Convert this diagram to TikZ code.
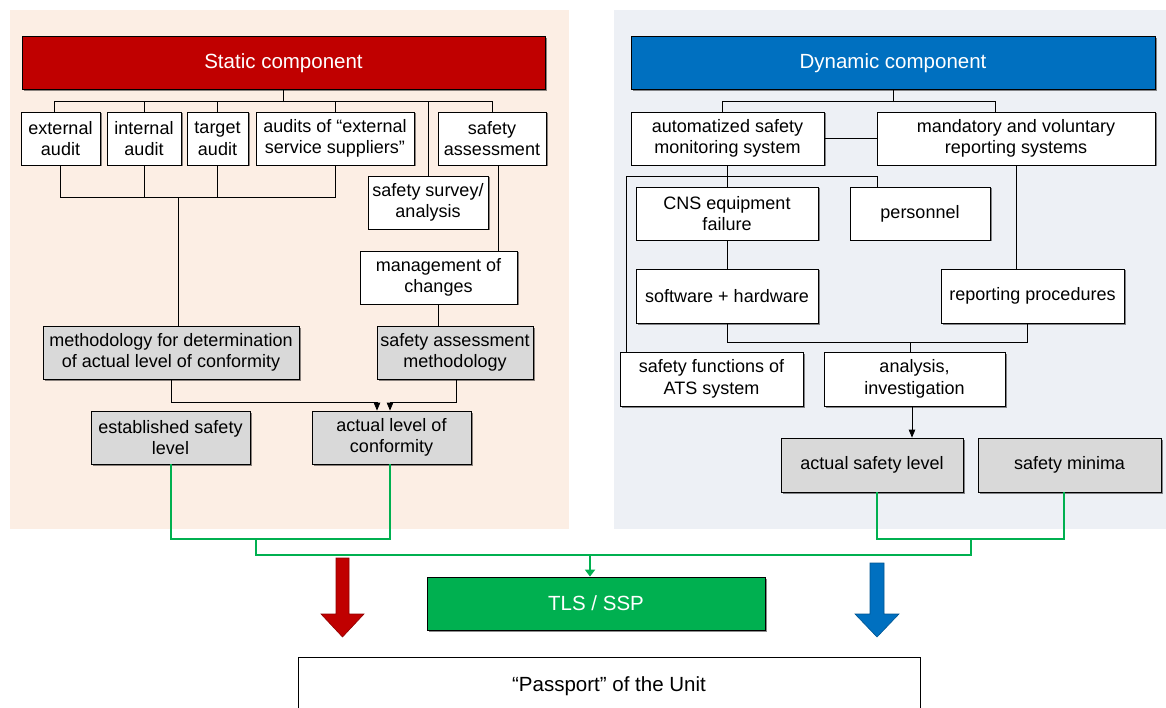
\documentclass[tikz,border=0pt]{standalone}
\usepackage{fontspec}
\setmainfont{Liberation Sans}
\usetikzlibrary{arrows.meta,shadows,calc}
\definecolor{sred}{HTML}{C00000}
\definecolor{sblue}{HTML}{0070C0}
\definecolor{sgreen}{HTML}{00B050}
\definecolor{sgray}{HTML}{D9D9D9}
\definecolor{peach}{HTML}{FCEEE4}
\definecolor{bluep}{HTML}{EDF0F5}
\begin{document}
\begin{tikzpicture}[x=1pt,y=-1pt,
  shad/.style={drop shadow={shadow xshift=1.5pt,shadow yshift=-1.5pt,fill=black,opacity=0.45}},
  plainbox/.style={draw=black,line width=0.8pt,fill=white,align=center,inner sep=0pt,
    font=\fontsize{18}{21.6}\selectfont},
  box/.style={plainbox,shad},
  gbox/.style={box,fill=sgray},
  hdr/.style={draw=black,line width=1pt,align=center,inner sep=0pt,text=white,
    font=\fontsize{20.5}{24}\selectfont,shad,minimum height=53pt},
  ln/.style={draw=black,line width=0.8pt},
  gln/.style={draw=sgreen,line width=2pt},
  arr/.style={-{Triangle[length=8pt,width=6.5pt]}},
  garr/.style={-{Triangle[length=7pt,width=10pt]}}]
\useasboundingbox (0,0) rectangle (1166,708);
\clip (0,0) rectangle (1166,708);
% panels
\fill[peach] (10,10) rectangle (569,529);
\fill[bluep] (614,10) rectangle (1166,529);

% ---------- static component ----------
\node[hdr,fill=sred,minimum width=523pt] (static) at (283.5,63.5) {Static component};
\node[box,minimum width=79pt,minimum height=53pt] (ext) at (60.5,138.5) {external\\audit};
\node[box,minimum width=74pt,minimum height=53pt] (int) at (144,138.5) {internal\\audit};
\node[box,minimum width=61pt,minimum height=53pt] (tgt) at (217.5,138.5) {target\\audit};
\node[box,minimum width=158pt,minimum height=53pt] (aud) at (335,138.5) {audits of “external\\service suppliers”};
\node[box,minimum width=108pt,minimum height=53pt] (sass) at (492,138.5) {safety\\assessment};
\node[box,minimum width=120pt,minimum height=53pt] (survey) at (428,202.5) {safety survey/\\analysis};
\node[box,minimum width=157pt,minimum height=53pt] (mgmt) at (438.5,277.5) {management of\\changes};
\node[gbox,minimum width=256pt,minimum height=53pt] (meth) at (171,352.5) {methodology for determination\\of actual level of conformity};
\node[gbox,minimum width=156pt,minimum height=53pt] (sam) at (455,352.5) {safety assessment\\methodology};
\node[gbox,minimum width=159pt,minimum height=53pt] (est) at (170.5,437.5) {established safety\\level};
\node[gbox,minimum width=159pt,minimum height=53pt] (alc) at (391.5,437.5) {actual level of\\conformity};

\draw[ln] (static.south) -- ++(0,11) coordinate (t1);
\coordinate (extn) at ($(ext.north)+(-6.5,0)$);
\draw[ln] (extn) |- (t1) -| (sass.north);
\draw[ln] (int.north) -- (int.north |- t1);
\draw[ln] (tgt.north) -- (tgt.north |- t1);
\draw[ln] (aud.north) -- (aud.north |- t1);
\draw[ln] (survey.north) -- (survey.north |- t1);
\draw[ln] (ext.south) -- ++(0,32) coordinate (b1) -| (aud.south);
\draw[ln] (int.south) -- (int.south |- b1);
\draw[ln] (tgt.south) -- (tgt.south |- b1);
\coordinate (m1) at ($(meth.north)+(7,0)$);
\draw[ln] (m1) -- (m1 |- b1);
\coordinate (s1) at ($(sass.south)+(6,0)$);
\draw[ln] (s1) -- (s1 |- mgmt.north);
\draw[ln] (mgmt.south) -- (mgmt.south |- sam.north);
\coordinate (alc1) at ($(alc.north)+(-14.5,0)$);
\coordinate (alc2) at ($(alc.north)+(-1.5,0)$);
\coordinate (sams) at ($(sam.south)+(1,0)$);
\draw[ln,arr] (meth.south) -- ++(0,23) -| (alc1);
\draw[ln,arr] (sams) -- ++(0,23) -| (alc2);

% ---------- dynamic component ----------
\node[hdr,fill=sblue,minimum width=524pt] (dyn) at (893,63.5) {Dynamic component};
\node[box,minimum width=193pt,minimum height=53pt] (auto) at (727.5,138.5) {automatized safety\\monitoring system};
\node[box,minimum width=278pt,minimum height=53pt] (mand) at (1016,138.5) {mandatory and voluntary\\reporting systems};
\node[box,minimum width=182pt,minimum height=53pt] (cns) at (727,213.5) {CNS equipment\\failure};
\node[box,minimum width=140pt,minimum height=53pt] (pers) at (920,213.5) {personnel};
\node[box,minimum width=182pt,minimum height=54pt] (sw) at (727,296) {software + hardware};
\node[box,minimum width=183pt,minimum height=54pt] (rp) at (1032.5,296) {reporting procedures};
\node[box,minimum width=183pt,minimum height=54pt] (sf) at (711.5,379) {safety functions of\\ATS system};
\node[box,minimum width=181pt,minimum height=54pt] (an) at (914.5,379) {analysis,\\investigation};
\node[gbox,minimum width=182pt,minimum height=54pt] (asl) at (872,465) {actual safety level};
\node[gbox,minimum width=183pt,minimum height=54pt] (smin) at (1069.5,465) {safety minima};

\draw[ln] (dyn.south) -- ++(0,11) coordinate (t2);
\coordinate (auton) at ($(auto.north)+(-5.5,0)$);
\coordinate (mandn) at ($(mand.north)+(-21,0)$);
\draw[ln] (auton) |- (t2) -| (mandn);
\draw[ln] (auto.east) -- (mand.west);
\draw[ln] (auto.south) -- (auto.south |- cns.north);
\coordinate (j1) at ($(auto.south)+(0,11)$);
\coordinate (sfl) at ($(sf.north west)+(7,0)$);
\coordinate (pl) at ($(pers.north west)+(28,0)$);
\draw[ln] (sfl) |- (j1) -| (pl);
\draw[ln] (mand.south) -- (mand.south |- rp.north);
\draw[ln] (cns.south) -- (cns.south |- sw.north);
\coordinate (rps) at ($(rp.south)+(-5.5,0)$);
\draw[ln] (sw.south) -- ++(0,19) coordinate (j2) -| (rps);
\coordinate (ant) at ($(an.north)+(-4.5,0)$);
\draw[ln] (ant |- j2) -- (ant);
\coordinate (ans) at ($(an.south)+(-2.5,0)$);
\draw[ln,arr] (ans) -- (ans |- asl.north);

% ---------- bottom ----------
\node[plainbox,fill=sgreen,text=white,font=\fontsize{20.5}{24}\selectfont,shad,
  minimum width=338pt,minimum height=53pt] (tls) at (596,603.5) {TLS / SSP};
\node[plainbox,font=\fontsize{20.5}{24}\selectfont,anchor=north,
  minimum width=622pt,minimum height=58pt] (pass) at (609,657) {“Passport” of the Unit};

\coordinate (gl) at (256,555);
\coordinate (gr) at (971,555);
\coordinate (ests) at ($(est.south)+(0.5,0)$);
\coordinate (alcs) at ($(alc.south)+(-1.5,0)$);
\draw[gln] (ests) -- ++(0,75) coordinate (g1) -| (alcs);
\coordinate (asls) at ($(asl.south)+(5,0)$);
\coordinate (smins) at ($(smin.south)+(-6,0)$);
\draw[gln] (asls) -- ++(0,47) coordinate (g2) -| (smins);
\draw[gln] (gl |- g1) -- (gl) -- (gr) -- (gr |- g2);
\coordinate (gt) at ($(tls.north)+(-6,0)$);
\draw[gln,garr] (gt |- gl) -- (gt);

% big arrows
\filldraw[fill=sred,draw=sred!75!black,line width=0.6pt]
  (336,558) -- (349,558) -- (349,614) -- (364,614) -- (342.5,637) -- (321,614) -- (336,614) -- cycle;
\filldraw[fill=sblue,draw=sblue!75!black,line width=0.6pt]
  (870,563) -- (884,563) -- (884,614) -- (899,614) -- (877,637) -- (855,614) -- (870,614) -- cycle;
\end{tikzpicture}
\end{document}
